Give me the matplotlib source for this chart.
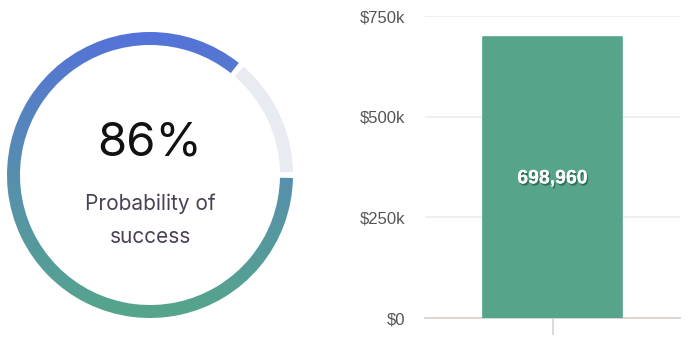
import numpy as np
import matplotlib
matplotlib.use("Agg")
import matplotlib.pyplot as plt
from matplotlib.patches import Wedge
from matplotlib.colors import LinearSegmentedColormap
import matplotlib.patheffects as pe

# Data
probability_pct = 86
probability_lines = ["Probability of", "success"]
categories = [""]
portfolio_values = [698960]
y_ticks = [0, 250000, 500000, 750000]
y_tick_labels = ["$0", "$250k", "$500k", "$750k"]

W, H = 689, 350
fig = plt.figure(figsize=(W / 100, H / 100), dpi=100)
fig.patch.set_facecolor("white")

# ---- Donut gauge (left) ----
ax1 = fig.add_axes([0, 0, 300 / W, 1])
ax1.set_xlim(0, 300)
ax1.set_ylim(350, 0)
ax1.set_aspect("equal")
ax1.axis("off")

cx, cy = 150, 175
r_out, ring_w = 143, 13
gap = 1.2  # degrees of white space between arcs

filled_deg = 360 * probability_pct / 100
start_deg = 360 - filled_deg

# With the inverted y axis, angles run clockwise on screen
track = Wedge((cx, cy), r_out, 360 - start_deg + gap, 360 - gap,
              width=ring_w, facecolor="#e8ebf1", edgecolor="none")
ax1.add_patch(track)

arc = Wedge((cx, cy), r_out, gap, 360 - start_deg - gap, width=ring_w,
            facecolor="none", edgecolor="none")
ax1.add_patch(arc)
cmap = LinearSegmentedColormap.from_list(
    "ring", ["#5472da", "#578fae", "#55a58b"])
grad = np.linspace(0, 1, 256).reshape(-1, 1)
img = ax1.imshow(grad, cmap=cmap, origin="lower", aspect="auto",
                 extent=(cx - r_out, cx + r_out, cy - r_out, cy + r_out),
                 interpolation="bilinear")
img.set_clip_path(arc)
ax1.set_xlim(0, 300)
ax1.set_ylim(350, 0)

ax1.text(cx, 143, f"{probability_pct}%", ha="center", va="center",
         fontsize=34, color="#111111", family="Inter")
for ypos, line in zip([204, 237], probability_lines):
    ax1.text(cx, ypos, line, ha="center", va="center",
             fontsize=15, color="#4b4156", family="Inter")

# ---- Bar chart (right) ----
ax2 = fig.add_axes([425 / W, (H - 318) / H, 255 / W, 302 / H])
x = np.arange(len(categories))
bars = ax2.bar(x, portfolio_values, width=0.545, color="#56a48a",
               edgecolor="#56a48a", linewidth=1.2, joinstyle="round",
               zorder=3)
ax2.set_xlim(-0.5, 0.5)
ax2.set_ylim(0, 750000)
ax2.set_yticks(y_ticks)
ax2.set_yticklabels(y_tick_labels, family="Liberation Sans")
ax2.set_xticks(x)
ax2.set_xticklabels(categories)
ax2.grid(axis="y", color="#efece7", linewidth=1.2, zorder=0)
for s in ["top", "right", "left"]:
    ax2.spines[s].set_visible(False)
ax2.spines["bottom"].set_color("#d8d3cc")
ax2.spines["bottom"].set_linewidth(1.3)
ax2.tick_params(axis="y", length=0, pad=21, labelsize=12,
                labelcolor="#555555")
ax2.tick_params(axis="x", length=12, width=1.2, color="#d8d3cc")
# the label pad also includes the zero-length tick; tighten it
ax2.tick_params(axis="y", pad=14)

for rect, v in zip(bars, portfolio_values):
    ax2.text(rect.get_x() + rect.get_width() / 2, v / 2 - 4000, f"{v:,}",
             ha="center", va="center", color="white", fontsize=14,
             fontweight="bold", family="Liberation Sans", zorder=4,
             path_effects=[pe.withSimplePatchShadow(offset=(1, -1.5),
                                                    shadow_rgbFace="#1d4a3c",
                                                    alpha=0.6),
                           pe.Normal()])

fig.savefig("out.png", dpi=100, facecolor="white")
